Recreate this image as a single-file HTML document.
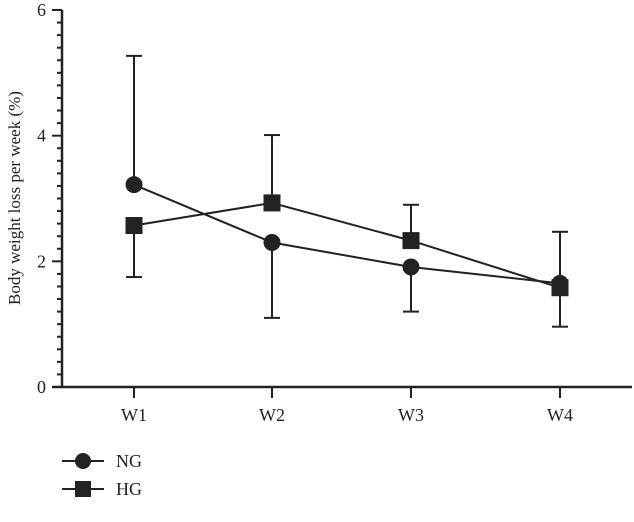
<!DOCTYPE html>
<html><head><meta charset="utf-8"><style>
body{margin:0;background:#fff}
svg text{font-family:"Liberation Serif",serif;fill:#222}
</style></head><body>
<svg width="634" height="517">
<g id="axes"></g>
<g id="marks"></g>
<text transform="translate(20,198) rotate(-90)" text-anchor="middle" font-size="17">Body weight loss per week (%)</text>
<g>
<g><line x1="62" y1="461" x2="104" y2="461" stroke="#222" stroke-width="2"/><circle cx="83" cy="461" r="8" fill="#222"/><text x="116" y="467" font-size="18">NG</text></g>
<g><line x1="62" y1="489" x2="104" y2="489" stroke="#222" stroke-width="2"/><rect x="75" y="481" width="16" height="16" fill="#222"/><text x="116" y="495" font-size="18">HG</text></g>
</g>
</svg>
<script>
const categories=["W1","W2","W3","W4"];
const ngValues=[3.22,2.30,1.91,1.65];
const ngErr=[2.05,1.20,0.71,0.82];
const ngErrDir=[1,-1,-1,1];
const hgValues=[2.57,2.93,2.33,1.58];
const hgErr=[0.82,1.08,0.57,0.62];
const hgErrDir=[-1,1,1,-1];
const yTicks=[0,2,4,6];
const NS="http://www.w3.org/2000/svg";
const xPos=[134,272,411,560];
function x(i){return xPos[i];}
function y(v){return 387-v*(377/6);}
function mk(t,a,p){const e=document.createElementNS(NS,t);for(const k in a)e.setAttribute(k,a[k]);p.appendChild(e);return e;}
const ax=document.getElementById('axes'),mg=document.getElementById('marks');
let l=mk('line',{x1:62,y1:y(6),x2:62,y2:388,stroke:'#222','stroke-width':2.5},ax);


l=mk('line',{x1:52,y1:387,x2:632,y2:387,stroke:'#222','stroke-width':2.5},ax);


for(let k=0;k<=30;k++){const v=k*0.2;const maj=k%10==0;mk('line',{x1:maj?52:57,x2:62,y1:y(v),y2:y(v),stroke:'#222','stroke-width':2},ax);}
yTicks.forEach(v=>{const t=mk('text',{x:46,y:y(v)+6,'text-anchor':'end','font-size':18},ax);t.textContent=v;

});
categories.forEach((c,i)=>{mk('line',{x1:x(i),x2:x(i),y1:387,y2:398,stroke:'#222','stroke-width':2},ax);
const t=mk('text',{x:x(i),y:421,'text-anchor':'middle','font-size':18},ax);t.textContent=c;

});
function series(vals,err,dir,shape,name){
const g=mk('g',{},mg);


vals.forEach((v,i)=>{const e=v+dir[i]*err[i];
mk('line',{x1:x(i),x2:x(i),y1:y(v),y2:y(e),stroke:'#222','stroke-width':2},g);
mk('line',{x1:x(i)-8,x2:x(i)+8,y1:y(e),y2:y(e),stroke:'#222','stroke-width':2},g);});
mk('polyline',{points:vals.map((v,i)=>x(i)+','+y(v)).join(' '),fill:'none',stroke:'#222','stroke-width':2},g);
vals.forEach((v,i)=>{let m;if(shape=='c')m=mk('circle',{cx:x(i),cy:y(v),r:8.5,fill:'#222'},g);else m=mk('rect',{x:x(i)-8.5,y:y(v)-8.5,width:17,height:17,fill:'#222'},g);

});}
series(ngValues,ngErr,ngErrDir,'c','ng-series');
series(hgValues,hgErr,hgErrDir,'s','hg-series');
</script>
</body></html>
